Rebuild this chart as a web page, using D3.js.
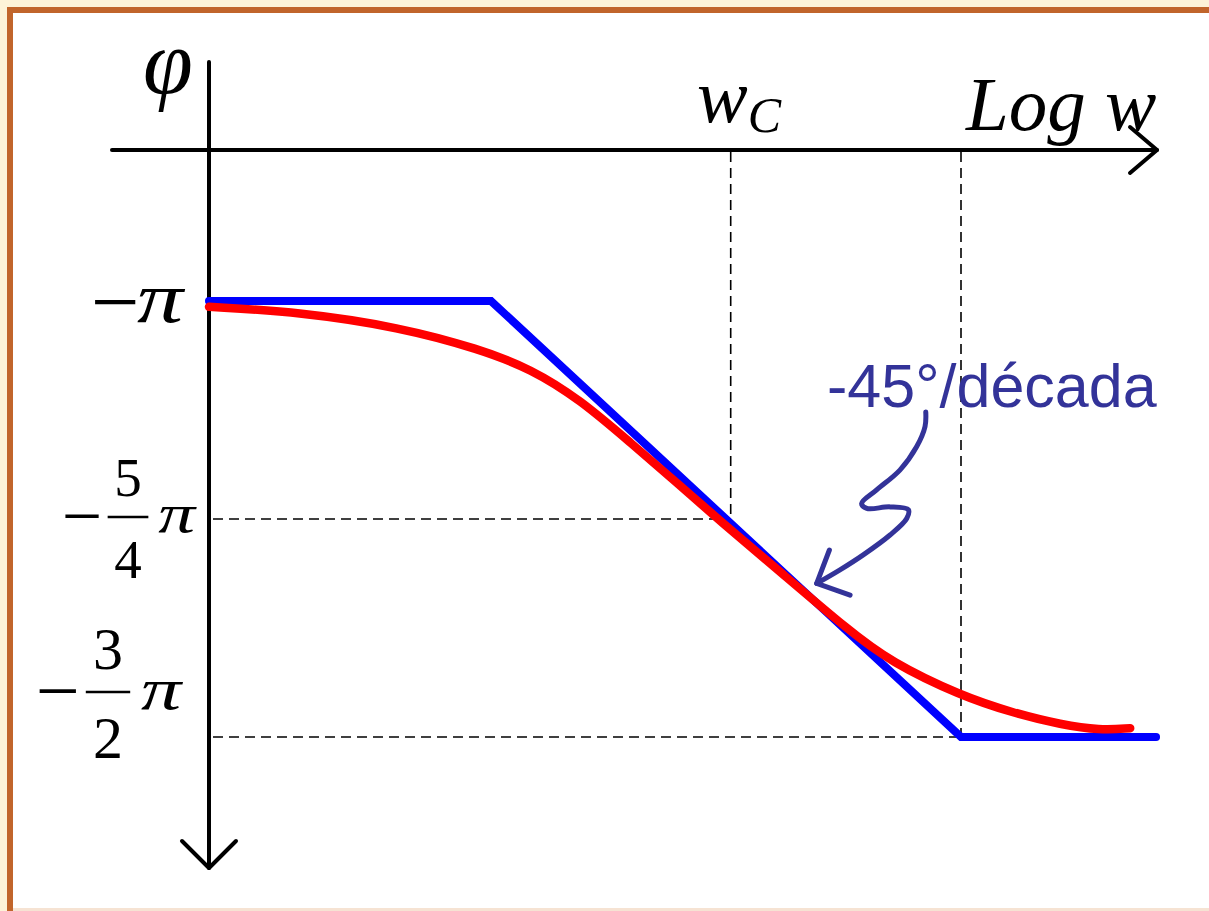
<!DOCTYPE html>
<html>
<head>
<meta charset="utf-8">
<script src="https://cdn.jsdelivr.net/npm/d3@7"></script>
<style>
  html, body { margin: 0; padding: 0; background: #fdf3d8; }
  svg { display: block; }
  .math { font-family: "Liberation Serif", "Times New Roman", serif; fill: #000; }
  .note { font-family: "Liberation Sans", Arial, sans-serif; fill: #333399; }
</style>
</head>
<body>
<div id="bode-phase"></div>
<script>
// Global config
// x values are in decades, log10(w / wC); phases are in degrees
var ASYMPTOTE_X = [-2.2, -1, 1, 1.83];
var ASYMPTOTE_PHASE = [-180, -180, -270, -270];

var CURVE_X = [-2.2, -1.81, -1.39, -1.05, -0.83, -0.62, -0.41, -0.2, -0.03, 0.23, 0.52, 0.7, 1.0, 1.22, 1.43, 1.59, 1.72];
var CURVE_PHASE = [-181.2, -182.3, -185.4, -189.9, -194.0, -200.4, -209.1, -217.9, -225.2, -235.9, -247.9, -254.5, -261.5, -265.0, -267.5, -268.6, -268.2];

var TICK_PHASES = [-180, -225, -270];
var TICK_NUMERATORS = [null, "5", "3"];
var TICK_DENOMINATORS = [null, "4", "2"];

var WC_X = 0.02;
var WC_PHASE = -225;
var BREAK_X = 1;
var BREAK_PHASE = -270;

var NOTE_TEXT = "-45°/década";
var NOTE_X = [0.85, 0.847, 0.811, 0.74, 0.641, 0.577, 0.599, 0.698, 0.776, 0.769, 0.698, 0.584, 0.485, 0.386];
var NOTE_PHASE = [-202.9, -205.9, -210.1, -214.9, -219.0, -221.8, -222.8, -222.5, -223.1, -224.9, -228.3, -232.4, -235.5, -238.3];
var NOTE_HEAD_X = [0.44, 0.386, 0.528];
var NOTE_HEAD_PHASE = [-231.4, -238.3, -240.7];

// Layout
var WIDTH = 1209;
var HEIGHT = 911;
var AXIS_Y = 150;
var AXIS_LEFT = 112;
var AXIS_RIGHT = 1157;
var AXIS_TOP = 62;
var AXIS_BOTTOM = 868;
var TICK_LAYOUT = [
  { x: 183, size: 72, dy: 0 },
  { x: 128, size: 55, dy: -2 },
  { x: 108, size: 60, dy: -45 }
];

var zip = function(xs, ys) {
  return xs.map(function(x, i) { return { x: x, phase: ys[i] }; });
};

var render = function() {
  var svg = d3.select("#bode-phase")
    .append("svg")
    .attr("width", WIDTH)
    .attr("height", HEIGHT);

  // Frame
  svg.append("rect").attr("width", WIDTH).attr("height", HEIGHT).attr("fill", "#fdf3d8");
  svg.append("rect").attr("x", 7).attr("y", 7).attr("width", WIDTH).attr("height", HEIGHT).attr("fill", "#c1652b");
  svg.append("rect").attr("x", 13).attr("y", 13).attr("width", WIDTH).attr("height", 895).attr("fill", "#ffffff");
  svg.append("rect").attr("x", 13).attr("y", 908).attr("width", WIDTH).attr("height", 3).attr("fill", "#f6e3d3");

  // Scales
  var xScale = d3.scaleLinear().domain([-1, 1]).range([491, 961]);
  var yScale = d3.scaleLinear().domain([-180, -270]).range([301, 737]);
  var originX = xScale(ASYMPTOTE_X[0]);

  var line = d3.line()
    .x(function(d) { return xScale(d.x); })
    .y(function(d) { return yScale(d.phase); });

  // Dashed guides
  var guides = svg.append("g")
    .attr("stroke", "#000")
    .attr("stroke-width", 1.6)
    .attr("stroke-dasharray", "10,6");

  [[WC_X, WC_PHASE], [BREAK_X, BREAK_PHASE]].forEach(function(p) {
    guides.append("line")
      .attr("x1", originX + 4).attr("x2", xScale(p[0]))
      .attr("y1", yScale(p[1])).attr("y2", yScale(p[1]));
    guides.append("line")
      .attr("x1", xScale(p[0])).attr("x2", xScale(p[0]))
      .attr("y1", AXIS_Y + 2).attr("y2", yScale(p[1]));
  });

  // Axes with arrows
  var axes = svg.append("g")
    .attr("stroke", "#000")
    .attr("stroke-width", 4)
    .attr("stroke-linecap", "round")
    .attr("stroke-linejoin", "round")
    .attr("fill", "none");

  axes.append("line")
    .attr("x1", AXIS_LEFT).attr("x2", AXIS_RIGHT)
    .attr("y1", AXIS_Y).attr("y2", AXIS_Y);
  axes.append("polyline")
    .attr("points", [[AXIS_RIGHT - 27, AXIS_Y - 23], [AXIS_RIGHT, AXIS_Y], [AXIS_RIGHT - 27, AXIS_Y + 23]].join(" "));
  axes.append("line")
    .attr("x1", originX).attr("x2", originX)
    .attr("y1", AXIS_TOP).attr("y2", AXIS_BOTTOM);
  axes.append("polyline")
    .attr("points", [[originX - 27, AXIS_BOTTOM - 27], [originX, AXIS_BOTTOM], [originX + 27, AXIS_BOTTOM - 27]].join(" "));

  // Series
  svg.append("path")
    .datum(zip(ASYMPTOTE_X, ASYMPTOTE_PHASE))
    .attr("d", line)
    .attr("fill", "none")
    .attr("stroke", "#0000ff")
    .attr("stroke-width", 8)
    .attr("stroke-linecap", "round");

  svg.append("path")
    .datum(zip(CURVE_X, CURVE_PHASE))
    .attr("d", line.curve(d3.curveBasis))
    .attr("fill", "none")
    .attr("stroke", "#ff0000")
    .attr("stroke-width", 8.5)
    .attr("stroke-linecap", "round");

  // Annotation
  var note = svg.append("g")
    .attr("fill", "none")
    .attr("stroke", "#333399")
    .attr("stroke-width", 5)
    .attr("stroke-linecap", "round")
    .attr("stroke-linejoin", "round");

  note.append("path")
    .datum(zip(NOTE_X, NOTE_PHASE))
    .attr("d", line.curve(d3.curveCatmullRom.alpha(0.5)));
  note.append("path")
    .datum(zip(NOTE_HEAD_X, NOTE_HEAD_PHASE))
    .attr("d", line.curve(d3.curveLinear));

  svg.append("text")
    .attr("class", "note")
    .attr("x", 827)
    .attr("y", 407)
    .attr("font-size", 61)
    .text(NOTE_TEXT);

  // Tick labels (-pi, -5/4 pi, -3/2 pi)
  TICK_PHASES.forEach(function(p, i) {
    var lay = TICK_LAYOUT[i];
    var s = lay.size;
    var g = svg.append("g")
      .attr("class", "math")
      .attr("transform", "translate(" + lay.x + "," + (yScale(p) + lay.dy) + ")")
      .attr("font-size", s);

    if (!TICK_NUMERATORS[i]) {
      g.append("text")
        .attr("text-anchor", "end")
        .attr("x", 0)
        .attr("y", 0.29 * s)
        .attr("font-style", "italic")
        .attr("textLength", 0.64 * s)
        .attr("lengthAdjust", "spacingAndGlyphs")
        .text("\u03c0");
      g.append("text")
        .attr("text-anchor", "end")
        .attr("x", -0.6 * s)
        .attr("y", 0.33 * s * 1.2 + 1)
        .attr("font-size", s * 1.2)
        .text("\u2212");
      return;
    }

    var half = 0.37 * s;
    var m = s * 1.3;
    g.append("text")
      .attr("text-anchor", "end")
      .attr("x", -half - 0.1 * s)
      .attr("y", 0.32 * m)
      .attr("font-size", m)
      .text("\u2212");
    g.append("line")
      .attr("x1", -half).attr("x2", half)
      .attr("stroke", "#000")
      .attr("stroke-width", 2.5);
    g.append("text")
      .attr("text-anchor", "middle")
      .attr("y", -0.38 * s)
      .text(TICK_NUMERATORS[i]);
    g.append("text")
      .attr("text-anchor", "middle")
      .attr("y", 1.1 * s)
      .text(TICK_DENOMINATORS[i]);
    g.append("text")
      .attr("x", half + 0.18 * s)
      .attr("y", 0.28 * s)
      .attr("font-style", "italic")
      .attr("textLength", 0.67 * s)
      .attr("lengthAdjust", "spacingAndGlyphs")
      .text("\u03c0");
  });

  // Axis titles
  svg.append("text")
    .attr("class", "math")
    .attr("x", 143)
    .attr("y", 93)
    .attr("font-size", 90)
    .attr("font-style", "italic")
    .text("\u03c6");

  svg.append("text")
    .attr("class", "math")
    .attr("x", 966)
    .attr("y", 130)
    .attr("font-size", 77)
    .attr("font-style", "italic")
    .text("Log w");

  var wc = svg.append("text")
    .attr("class", "math")
    .attr("x", 697)
    .attr("y", 122)
    .attr("font-size", 76)
    .attr("font-style", "italic");
  wc.append("tspan").text("w");
  wc.append("tspan").attr("font-size", 50).attr("dy", 10).text("C");
};

window.onload = render;
</script>
</body>
</html>
